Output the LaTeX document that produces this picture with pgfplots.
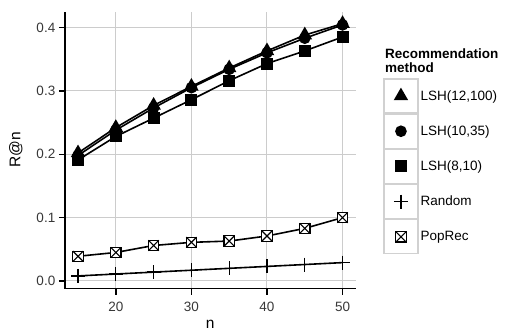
\documentclass[border=0pt]{standalone}
\usepackage{fontspec}
\setmainfont{Liberation Sans}
\usepackage{pgfplots}
\pgfplotsset{compat=1.18}
\pgfdeclareplotmark{sqx}{%
 \pgfpathrectangle{\pgfpoint{-\pgfplotmarksize}{-\pgfplotmarksize}}{\pgfpoint{2\pgfplotmarksize}{2\pgfplotmarksize}}%
 \pgfusepathqfillstroke
 \pgfpathmoveto{\pgfpoint{-\pgfplotmarksize}{-\pgfplotmarksize}}\pgfpathlineto{\pgfpoint{\pgfplotmarksize}{\pgfplotmarksize}}%
 \pgfpathmoveto{\pgfpoint{-\pgfplotmarksize}{\pgfplotmarksize}}\pgfpathlineto{\pgfpoint{\pgfplotmarksize}{-\pgfplotmarksize}}%
 \pgfusepathqstroke}
\begin{document}
\begin{tikzpicture}[x=1pt,y=1pt]
\useasboundingbox (0,0) rectangle (506,333);
\begin{axis}[
 at={(64.8pt,44.4pt)}, anchor=south west,
 width=291pt, height=277pt, scale only axis,
 xmin=13.25, xmax=51.75, ymin=-0.012, ymax=0.425,
 axis x line*=bottom, axis y line*=left,
 axis line style={line width=1.4pt, black},
 xtick={20,30,40,50}, ytick={0,0.1,0.2,0.3,0.4},
 yticklabel style={/pgf/number format/.cd, fixed, fixed zerofill, precision=1},
 tick align=outside, major tick length=6pt, tick style={line width=1.4pt, black},
 grid=major, grid style={line width=1pt, black!20},
 ticklabel style={font=\fontsize{13.5}{15}\selectfont, text=black!78},
 xticklabel style={yshift=-4pt},
 /pgf/number format/assume math mode=true,
 xlabel={n}, ylabel={R@n},
 label style={font=\fontsize{15.5}{17}\selectfont},
 xlabel style={at={(axis description cs:0.5,-0.128)}, anchor=center},
 ylabel style={at={(axis description cs:-0.168,0.5)}, anchor=center},
 legend image code/.code={%
   \draw[black!18, line width=1.2pt, fill=white] (0pt,-17pt) rectangle (34pt,17pt);
   \draw[#1, only marks] plot coordinates {(17pt,0pt)};},
 legend style={at={(axis description cs:1.094,0.441)}, anchor=west, draw=none, fill=none,
   font=\fontsize{13.5}{15}\selectfont, row sep=0pt, inner sep=0pt,
   /tikz/every even column/.append style={column sep=3pt}},
 legend cell align=left,
 reverse legend,
 every axis plot/.append style={black, line width=1.6pt},
]
\addplot[mark=sqx, mark size=5.2pt, mark options={fill=white, line width=1.1pt}] coordinates {
 (15,0.039) (20,0.045) (25,0.056) (30,0.061) (35,0.063) (40,0.071) (45,0.083) (50,0.100)};
\addlegendentry{PopRec}
\addplot[mark=+, mark size=7pt, mark options={line width=1.3pt}] coordinates {
 (15,0.008) (20,0.011) (25,0.014) (30,0.017) (35,0.020) (40,0.023) (45,0.026) (50,0.029)};
\addlegendentry{Random}
\addplot[mark=square*, mark size=5.2pt] coordinates {
 (15,0.191) (20,0.228) (25,0.257) (30,0.286) (35,0.316) (40,0.343) (45,0.363) (50,0.385)};
\addlegendentry{LSH(8,10)}
\addplot[mark=*, mark size=5pt] coordinates {
 (15,0.198) (20,0.238) (25,0.273) (30,0.305) (35,0.334) (40,0.360) (45,0.383) (50,0.404)};
\addlegendentry{LSH(10,35)}
\addplot[mark=triangle*, mark size=6.8pt] coordinates {
 (15,0.202) (20,0.242) (25,0.277) (30,0.307) (35,0.336) (40,0.363) (45,0.388) (50,0.406)};
\addlegendentry{LSH(12,100)}
\end{axis}
\node[anchor=base west, inner sep=0pt, font=\bfseries\fontsize{13.5}{15}\selectfont] at (385,275) {Recommendation};
\node[anchor=base west, inner sep=0pt, font=\bfseries\fontsize{13.5}{15}\selectfont] at (385,261) {method};
\end{tikzpicture}
\end{document}
